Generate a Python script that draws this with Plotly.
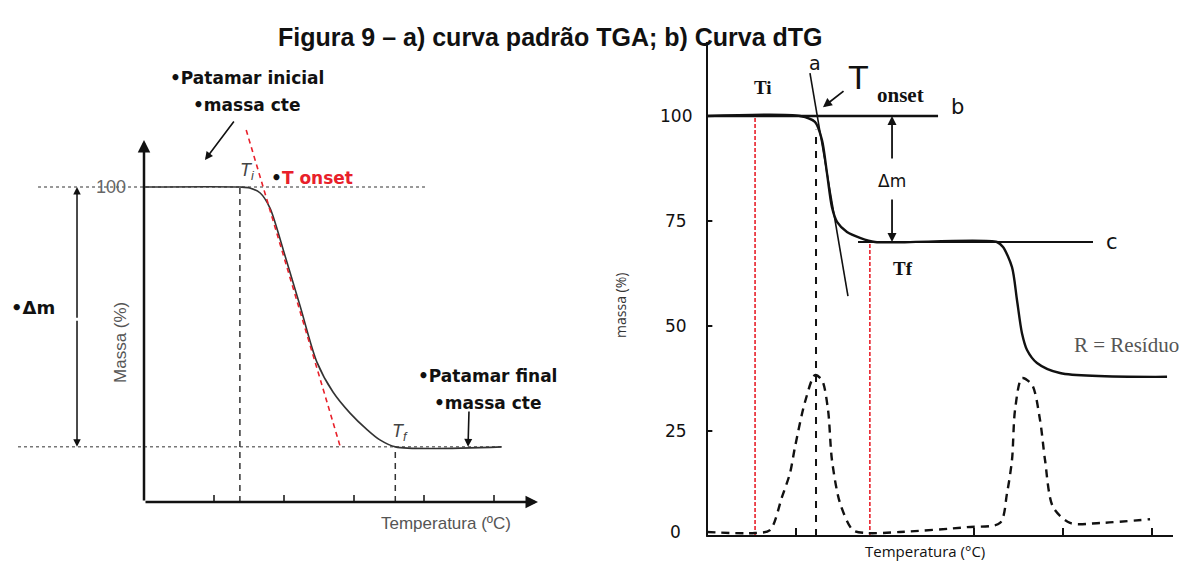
import plotly.graph_objects as go

# ---------------- Panel a) standard TGA curve (schematic) ----------------
tga_a_temp = [0, 137, 151, 166, 180, 199, 223, 247, 270, 294, 319, 337, 359, 511]
tga_a_mass = [100, 100, 99.7, 98.1, 93.3, 80, 62.2, 44.4, 34.9, 28.3, 22.9, 19.7, 17.5, 17.5]
tangent_a_temp = [146, 280]
tangent_a_mass = [118.1, 17.8]
a_Ti, a_Tf = 137, 359
a_m0, a_mf = 100, 17.5
a_xticks = [100, 200, 300, 400, 500]

# ---------------- Panel b) TGA + DTG curve ----------------
tga_b_temp = [0, 104.5, 121.3, 129.2, 134.8, 140.4, 146.1, 157.3, 171.9, 188.8, 325.8,
              332.6, 342.7, 348.3, 353.9, 359.6, 370.8, 396.6, 516.9]
tga_b_mass = [100, 100, 98.6, 94.3, 86.4, 78.3, 74.8, 72.4, 71.0, 70, 70,
              68.8, 64.0, 56.2, 48.3, 44.3, 41.2, 38.8, 37.9]
dtg_temp = [0, 54, 70.8, 84.3, 93.3, 98.9, 110.1, 121.3, 129.2, 136, 140.4, 149.4, 164, 179.8,
            216.9, 292.1, 329.2, 337.1, 342.7, 346.1, 353.9, 365.2, 374.2, 379.8, 388.8,
            407.9, 441.6, 497.8]
dtg_val = [0.95, 0.7, 1.4, 9.3, 15, 21.2, 31.9, 38.3, 37.1, 30, 18.1, 7.9, 1.4, 0.7,
           0.95, 2.1, 3.1, 10.2, 18.1, 30, 37.6, 36, 27.6, 18.1, 6.9,
           3.1, 3.1, 4.0]
line_a_temp = [115.7, 158.4]
line_a_mass = [110.2, 57.1]
b_Ti, b_Tpeak, b_Tf = 54, 122.5, 183
b_line_b = [0, 259.6]
b_line_c = [169.7, 433.7]
b_c_level = 70
b_ytick_vals = [100, 75, 50, 25, 0]
b_ytick_text = ["100", "75", "50", "25", "0"]
b_xticks = [100, 300, 400, 500]

BLACK = "#111111"
fig = go.Figure()

def line(xs, ys, xa, ya, color=BLACK, width=2, dash=None, shape="linear"):
    fig.add_trace(go.Scatter(x=xs, y=ys, mode="lines", xaxis=xa, yaxis=ya,
                             line=dict(color=color, width=width, dash=dash, shape=shape,
                                       smoothing=0.8 if shape == "spline" else None),
                             hoverinfo="skip", showlegend=False))

# ---- panel a drawing ----
line([-151.4, 401.4], [a_m0, a_m0], "x", "y", color="#777", width=1.5, dash="dot")
line([-180, 511.4], [a_mf, a_mf], "x", "y", color="#777", width=1.5, dash="dot")
line([a_Ti, a_Ti], [0, a_m0], "x", "y", color="#333", width=1.5, dash="6px,5px")
line([a_Tf, a_Tf], [0, a_mf], "x", "y", color="#333", width=1.5, dash="6px,5px")
line(tga_a_temp, tga_a_mass, "x", "y", color="#333", width=1.6, shape="spline")
line(tangent_a_temp, tangent_a_mass, "x", "y", color="#e8202a", width=1.6, dash="5px,4px")
tx, ty = [], []
for t in a_xticks:
    tx += [t, t, None]; ty += [0, 2.2, None]
line(tx, ty, "x", "y", color=BLACK, width=1.5)

# ---- panel b drawing ----
line([b_Ti, b_Ti], [0, 100], "x2", "y2", color="#e8202a", width=1.6, dash="4px,2px")
line([b_Tf, b_Tf], [0, b_c_level], "x2", "y2", color="#e8202a", width=1.6, dash="4px,2px")
line([b_Tpeak, b_Tpeak], [0, 96.7], "x2", "y2", color=BLACK, width=2, dash="7px,7px")
line(b_line_b, [100, 100], "x2", "y2", color=BLACK, width=2.5)
line(b_line_c, [b_c_level, b_c_level], "x2", "y2", color=BLACK, width=2.2)
line(line_a_temp, line_a_mass, "x2", "y2", color=BLACK, width=1.6)
line(tga_b_temp, tga_b_mass, "x2", "y2", color=BLACK, width=2.4, shape="spline")
line(dtg_temp, dtg_val, "x2", "y2", color=BLACK, width=2.4, dash="8px,6px", shape="spline")
line([0, 0], [0, 117.6], "x2", "y2", color=BLACK, width=2)
line([-1, 523.6], [0, 0], "x2", "y2", color=BLACK, width=2)
tx, ty = [], []
for t in b_xticks:
    tx += [t, t, None]; ty += [0, 1.9, None]
for v in b_ytick_vals[1:-1]:
    tx += [0, 6, None]; ty += [v, v, None]
line(tx, ty, "x2", "y2", color=BLACK, width=2)

ann = []
def text(x, y, s, xa, ya, size, color=BLACK, family="DejaVu Sans", angle=0, **kw):
    ann.append(dict(x=x, y=y, xref=xa, yref=ya, text=s, showarrow=False, textangle=angle,
                    font=dict(size=size, color=color, family=family), **kw))

def arrow(x0, y0, x1, y1, xa, ya, width=2, head=2, size=1.0, color=BLACK):
    ann.append(dict(x=x1, y=y1, ax=x0, ay=y0, xref=xa, yref=ya, axref=xa, ayref=ya,
                    text="", showarrow=True, arrowhead=head, arrowsize=size,
                    arrowwidth=width, arrowcolor=color, standoff=0, startstandoff=0))

# title
ann.append(dict(x=550 / 1193, y=1 - 21 / 562, xref="paper", yref="paper", showarrow=False,
                text="<b>Figura 9 – a) curva padrão TGA; b) Curva dTG</b>",
                font=dict(size=25, family="Liberation Sans", color=BLACK)))

# panel a texts/arrows
arrow(0, 0, 0, 114.9, "x", "y", width=2.5)
arrow(0, 0, 562.9, 0, "x", "y", width=2.5)
arrow(-95.7, 58, -95.7, a_m0, "x", "y", width=1.5)
arrow(-95.7, 58, -95.7, a_mf, "x", "y", width=1.5)
arrow(130, 121.3, 87.1, 108.6, "x", "y", width=1.6)
arrow(464.3, 29.2, 462.9, a_mf, "x", "y", width=1.6)
text(-47.1, 100, "100", "x", "y", 18, color="#666", family="Liberation Sans")
text(-32.9, 50.8, "Massa (%)", "x", "y", 17, color="#555", family="Liberation Sans", angle=-90)
text(-158.6, 61.6, "<b>•Δm</b>", "x", "y", 18)
text(147, 134.6, "<b>•Patamar inicial</b>", "x", "y", 17)
text(147, 126, "<b>•massa cte</b>", "x", "y", 17)
text(148, 104.8, "<i>T<sub>i</sub></i>", "x", "y", 18, color="#444", family="Liberation Sans")
text(240, 102.9, "<b>•<span style='color:#e8202a'>T onset</span></b>", "x", "y", 17)
text(366, 22.2, "<i>T<sub>f</sub></i>", "x", "y", 18, color="#444", family="Liberation Sans")
text(491.4, 40, "<b>•Patamar final</b>", "x", "y", 17)
text(491.4, 31.4, "<b>•massa cte</b>", "x", "y", 17)
text(431.4, -6.7, "Temperatura (ºC)", "x", "y", 17, color="#555", family="Liberation Sans")

# panel b texts/arrows
for v, s in zip(b_ytick_vals, b_ytick_text):
    text(-35, v if v > 0 else 1, s, "x2", "y2", 17, family="DejaVu Sans")
text(-97.8, 55, "massa (%)", "x2", "y2", 14, color="#333", family="Open Sans", angle=-90)
text(244.9, -3.6, "Temperatura (°C)", "x2", "y2", 15, color=BLACK, family="Open Sans")
text(121.3, 112.6, "a", "x2", "y2", 19, family="DejaVu Sans")
text(169.7, 109.3, "T", "x2", "y2", 34, family="Liberation Sans")
text(216.9, 105, "<b>onset</b>", "x2", "y2", 21, family="Liberation Serif")
text(282, 102.1, "b", "x2", "y2", 21, family="DejaVu Sans")
text(455, 70, "c", "x2", "y2", 21, family="DejaVu Sans")
text(207.9, 84.5, "Δm", "x2", "y2", 17, family="DejaVu Sans")
text(62.9, 106.7, "<b>Ti</b>", "x2", "y2", 19, family="Liberation Serif")
text(220.2, 63.8, "<b>Tf</b>", "x2", "y2", 19, family="Liberation Serif")
text(471.9, 45.5, "R = Resíduo", "x2", "y2", 21, color="#555", family="Liberation Serif")
arrow(155.1, 106.2, 130.3, 102.1, "x2", "y2", width=1.8)
arrow(207.9, 89.5, 207.9, 100, "x2", "y2", width=1.8)
arrow(207.9, 80.5, 207.9, b_c_level, "x2", "y2", width=1.8)

fig.update_layout(
    width=1193, height=562, margin=dict(l=0, r=0, t=0, b=0),
    paper_bgcolor="white", plot_bgcolor="white", showlegend=False,
    xaxis=dict(domain=[0, 600 / 1193], range=[-205.71, 651.43], visible=False, fixedrange=True),
    yaxis=dict(domain=[0, 1], range=[-19.05, 159.37], visible=False, fixedrange=True),
    xaxis2=dict(domain=[600 / 1193, 1], range=[-120.22, 546.07], visible=False, fixedrange=True),
    yaxis2=dict(domain=[0, 1], range=[-6.19, 127.62], visible=False, fixedrange=True,
                anchor="x2"),
    annotations=ann,
)
fig.write_html("out.html")
